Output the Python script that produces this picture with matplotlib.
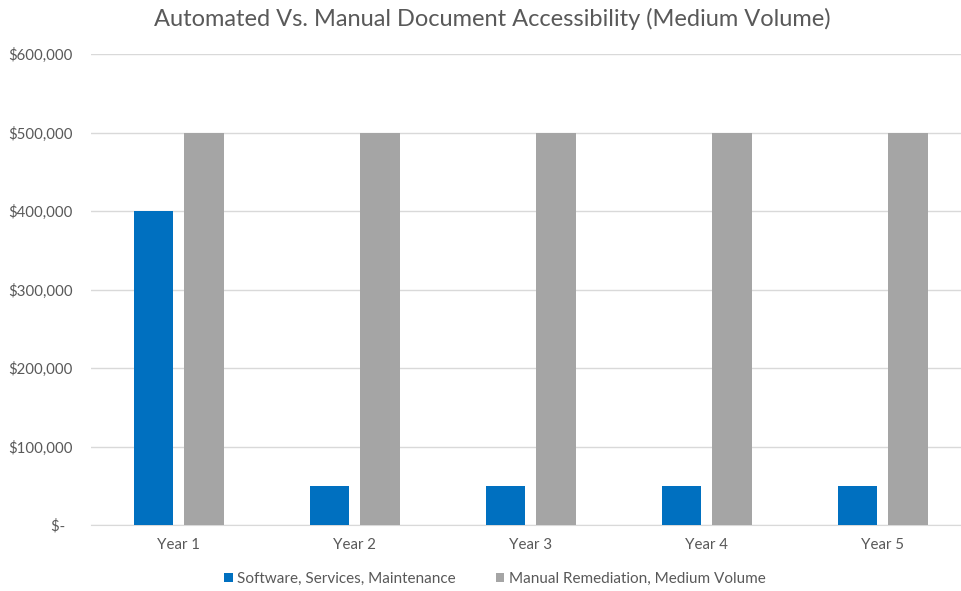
import numpy as np
import matplotlib.pyplot as plt
from matplotlib.ticker import FuncFormatter

years = ['Year 1', 'Year 2', 'Year 3', 'Year 4', 'Year 5']
software = [400000, 50000, 50000, 50000, 50000]
manual = [500000, 500000, 500000, 500000, 500000]
series_names = ['Software, Services, Maintenance', 'Manual Remediation, Medium Volume']

plt.rcParams['font.family'] = ['Lato', 'DejaVu Sans']
txt = '#595959'

fig = plt.figure(figsize=(9.62, 5.91), dpi=100)
# plot area runs past the right edge, as in the cropped original
ax = fig.add_axes([90.5 / 962, 1 - 525 / 591, 880 / 962, 471 / 591])

x = np.arange(len(years))
w = 0.225
ax.bar(x - 0.142, software, w, color='#0070C0', label=series_names[0], zorder=3)
ax.bar(x + 0.145, manual, w, color='#A5A5A5', label=series_names[1], zorder=3)

ax.set_xlim(-0.5, 4.5)
ax.set_ylim(0, 600000)
ax.set_yticks(np.arange(0, 600001, 100000))

def money(v, pos):
    if v == 0:
        return '$-  '
    return '${:,.0f}'.format(v)

ax.yaxis.set_major_formatter(FuncFormatter(money))
ax.set_xticks(x)
ax.set_xticklabels(years)
ax.grid(axis='y', color='#D9D9D9', linewidth=1, zorder=0)
for s in ['top', 'right', 'left']:
    ax.spines[s].set_visible(False)
ax.spines['bottom'].set_color('#D9D9D9')
ax.tick_params(axis='both', length=0, colors=txt, labelsize=10.8)
ax.tick_params(axis='y', pad=13)
ax.tick_params(axis='x', pad=9.5)

fig.text(492 / 962, 1 - 19 / 591, 'Automated Vs. Manual Document Accessibility (Medium Volume)',
         ha='center', va='center', fontsize=17, color=txt)

fig.legend(loc='center', bbox_to_anchor=(495 / 962, 1 - 579 / 591), ncol=2, frameon=False,
           fontsize=11, labelcolor=txt, handlelength=0.55, handleheight=0.55,
           handletextpad=0.3, columnspacing=2.6)

fig.savefig('out.png', dpi=100)
